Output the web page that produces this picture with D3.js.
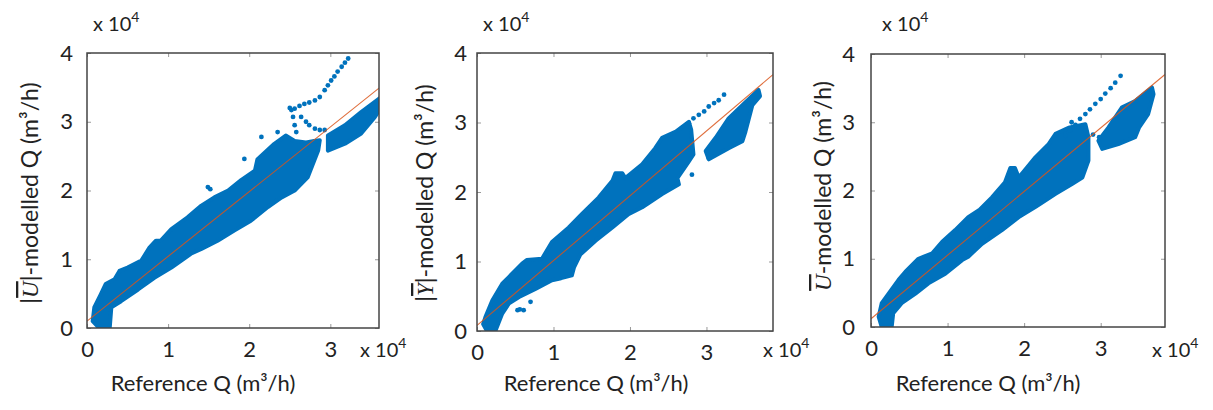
<!DOCTYPE html>
<html>
<head>
<meta charset="utf-8">
<script src="https://d3js.org/d3.v7.min.js"></script>
<style>
  body { margin: 0; background: #fff; }
  text { font-family: Lato, "Open Sans", sans-serif; fill: #222; }
</style>
</head>
<body>
<script>
// ticks (values in units of 10^4 m3/h)
const xTicks = [0, 1, 2, 3];
const yTicks = [0, 1, 2, 3, 4];

// panel 1 : |U|-modelled
const p1Upper = [[0.15,0.00],[0.07,0.10],[0.09,0.30],[0.17,0.49],[0.23,0.64],[0.34,0.71],[0.40,0.83],[0.50,0.88],[0.67,0.98],[0.77,1.17],[0.85,1.27],[0.91,1.27],[1.04,1.44],[1.24,1.61],[1.41,1.78],[1.57,1.90],[1.74,2.00],[1.90,2.15],[2.07,2.29],[2.10,2.45],[2.19,2.55],[2.31,2.68],[2.45,2.80],[2.56,2.72],[2.70,2.70],[2.80,2.72],[2.87,2.73]];
const p1Lower = [[0.28,0.00],[0.30,0.30],[0.42,0.39],[0.63,0.56],[0.83,0.73],[1.04,0.88],[1.28,1.08],[1.41,1.15],[1.61,1.27],[1.82,1.42],[2.02,1.56],[2.23,1.76],[2.40,1.90],[2.56,2.00],[2.72,2.19],[2.85,2.58]];
const p1Cluster = [[2.97,2.80],[3.18,2.95],[3.38,3.14],[3.63,3.36],[3.63,3.22],[3.55,3.07],[3.38,2.83],[3.18,2.68],[2.97,2.58]];
const p1Dots = [[1.49,2.05],[1.52,2.02],[1.94,2.46],[2.15,2.78],[2.35,2.85],
  [2.52,3.17],[2.50,3.20],[2.54,3.07],[2.56,2.95],[2.58,2.85],
  [2.56,3.19],[2.62,3.23],[2.68,3.26],[2.74,3.28],[2.81,3.31],[2.87,3.36],[2.93,3.46],[2.97,3.53],[3.01,3.60],[3.05,3.66],[3.09,3.73],[3.14,3.80],[3.18,3.86],[3.22,3.92],
  [2.64,3.07],[2.70,3.00],[2.74,2.95],[2.81,2.90],[2.87,2.88],[2.93,2.88]];
const p1Fit = [[0, 0.10], [3.6, 3.49]];

// panel 2 : |Y|-modelled
const p2Upper = [[0.13,0.00],[0.08,0.10],[0.11,0.20],[0.20,0.44],[0.33,0.68],[0.42,0.78],[0.59,0.97],[0.65,1.02],[0.85,1.04],[0.98,1.28],[1.20,1.49],[1.37,1.68],[1.59,1.92],[1.77,2.16],[1.81,2.27],[1.90,2.27],[1.94,2.20],[2.16,2.40],[2.33,2.63],[2.42,2.78],[2.60,2.87],[2.77,3.01],[2.80,2.90]];
const p2Lower = [[0.24,0.00],[0.33,0.25],[0.42,0.40],[0.55,0.49],[0.77,0.61],[0.98,0.73],[1.10,0.76],[1.24,0.80],[1.27,0.92],[1.35,1.10],[1.55,1.30],[1.77,1.49],[1.98,1.68],[2.16,1.78],[2.42,1.97],[2.64,2.11],[2.62,2.20],[2.77,2.44],[2.83,2.54]];
const p2Cluster = [[2.99,2.59],[3.12,2.78],[3.29,3.06],[3.47,3.25],[3.68,3.47],[3.70,3.38],[3.60,3.25],[3.51,2.87],[3.47,2.73],[3.29,2.63],[3.03,2.47]];
const p2Dots = [[0.53,0.30],[0.56,0.31],[0.61,0.30],[0.70,0.42],[2.81,2.25],[3.03,2.49],
  [2.77,2.99],[2.83,3.06],[2.90,3.11],[2.97,3.16],[3.03,3.23],[3.10,3.28],[3.16,3.32],[3.23,3.40]];
const p2Fit = [[0, 0.08], [3.87, 3.69]];

// panel 3 : U-modelled
const p3Upper = [[0.14,0.00],[0.10,0.15],[0.14,0.35],[0.23,0.49],[0.36,0.69],[0.45,0.81],[0.62,1.00],[0.80,1.08],[0.93,1.25],[1.10,1.42],[1.27,1.61],[1.41,1.71],[1.58,1.90],[1.75,2.12],[1.82,2.33],[1.88,2.33],[1.93,2.19],[2.15,2.49],[2.32,2.68],[2.41,2.83],[2.58,2.92],[2.80,2.97],[2.84,2.78]];
const p3Lower = [[0.27,0.00],[0.29,0.20],[0.40,0.35],[0.58,0.49],[0.75,0.64],[0.97,0.78],[1.19,0.98],[1.27,1.03],[1.45,1.22],[1.71,1.42],[1.93,1.61],[2.15,1.76],[2.41,1.95],[2.63,2.10],[2.76,2.19],[2.84,2.44]];
const p3Cluster = [[2.97,2.73],[3.10,2.92],[3.28,3.22],[3.45,3.31],[3.67,3.51],[3.69,3.41],[3.62,3.12],[3.50,2.92],[3.45,2.78],[3.23,2.68],[3.02,2.61]];
const p3Dots = [[2.54,2.80],[2.60,2.88],[2.67,2.96],[2.73,3.05],[2.80,3.12],[2.86,3.19],[2.93,3.27],[3.00,3.34],[3.06,3.42],[3.13,3.50],[3.19,3.58],[3.26,3.68],
  [2.62,3.00],[2.72,2.93],[2.80,2.88],[2.90,2.82],[2.98,2.78]];
const p3Fit = [[0, 0.12], [3.84, 3.70]];

const panels = [
  {upper:p1Upper, lower:p1Lower, cluster:p1Cluster, dots:p1Dots, fit:p1Fit, xMax:3.6,
   box:{l:87,r:379,t:53,b:328}, ylPad:14, sym:"U", bars:true, titleX:203, yTitleX:38,
   topExp:93, sideExp:360},
  {upper:p2Upper, lower:p2Lower, cluster:p2Cluster, dots:p2Dots, fit:p2Fit, xMax:3.87,
   box:{l:477,r:773,t:53,b:331}, ylPad:10, sym:"Y", bars:true, titleX:596, yTitleX:433,
   topExp:483, sideExp:763},
  {upper:p3Upper, lower:p3Lower, cluster:p3Cluster, dots:p3Dots, fit:p3Fit, xMax:3.84,
   box:{l:871,r:1165,t:54,b:327}, ylPad:16, sym:"U", bars:false, titleX:988, yTitleX:831,
   topExp:882, sideExp:1152}
];

const blue = "#0072BD", orange = "#D95319";
const svg = d3.select("body").append("svg").attr("width", 1213).attr("height", 410);

function expLabel(g, x, y) {
  const t = g.append("text").attr("x", x).attr("y", y).style("font-size", "20px");
  t.append("tspan").text("x 10");
  t.append("tspan").attr("dy", -9).style("font-size", "14px").text("4");
}

panels.forEach((p, i) => {
  const x = d3.scaleLinear().domain([0, p.xMax]).range([p.box.l, p.box.r]);
  const y = d3.scaleLinear().domain([0, 4]).range([p.box.b, p.box.t]);
  const g = svg.append("g");

  g.append("clipPath").attr("id", "clip" + i).append("rect")
    .attr("x", p.box.l).attr("y", p.box.t)
    .attr("width", p.box.r - p.box.l).attr("height", p.box.b - p.box.t);

  const plot = g.append("g").attr("clip-path", `url(#clip${i})`);
  const line = d3.line().x(d => x(d[0])).y(d => y(d[1])).curve(d3.curveLinearClosed);

  // dense cloud of points -> envelope, sparse points -> markers
  plot.append("path")
    .attr("d", line(p.upper.concat(p.lower.slice().reverse())))
    .attr("fill", blue).attr("stroke", blue).attr("stroke-width", 4)
    .attr("stroke-linejoin", "round");
  plot.append("path")
    .attr("d", line(p.cluster))
    .attr("fill", blue).attr("stroke", blue).attr("stroke-width", 4)
    .attr("stroke-linejoin", "round");
  plot.selectAll("circle").data(p.dots).enter().append("circle")
    .attr("cx", d => x(d[0])).attr("cy", d => y(d[1])).attr("r", 2.4)
    .attr("fill", blue);

  plot.append("path")
    .attr("d", d3.line().x(d => x(d[0])).y(d => y(d[1]))(p.fit))
    .attr("stroke", orange).attr("stroke-width", 1.1).attr("fill", "none")
    .attr("opacity", 0.85);

  // axes, MATLAB style inward ticks on all sides
  const ax = g.append("g").attr("transform", `translate(0,${p.box.b})`)
    .call(d3.axisBottom(x).tickValues(xTicks).tickSizeInner(-4).tickSizeOuter(0)
      .tickPadding(13).tickFormat(d3.format("d")));
  const ay = g.append("g").attr("transform", `translate(${p.box.l},0)`)
    .call(d3.axisLeft(y).tickValues(yTicks).tickSizeInner(-4).tickSizeOuter(0)
      .tickPadding(p.ylPad).tickFormat(d3.format("d")));
  const at = g.append("g").attr("transform", `translate(0,${p.box.t})`)
    .call(d3.axisTop(x).tickValues(xTicks).tickSizeInner(-4).tickSizeOuter(0).tickFormat(""));
  const ar = g.append("g").attr("transform", `translate(${p.box.r},0)`)
    .call(d3.axisRight(y).tickValues(yTicks).tickSizeInner(-4).tickSizeOuter(0).tickFormat(""));
  [ax, ay, at, ar].forEach(a => {
    a.select(".domain").remove();
    a.selectAll("line").attr("stroke", "#999");
    a.selectAll("text").style("font-size", "22px").attr("fill", "#222")
      .style("font-family", "Lato, sans-serif");
  });

  g.append("rect").attr("x", p.box.l).attr("y", p.box.t)
    .attr("width", p.box.r - p.box.l).attr("height", p.box.b - p.box.t)
    .attr("fill", "none").attr("stroke", "#444").attr("stroke-width", 1.5);

  expLabel(g, p.topExp, 31);
  expLabel(g, p.sideExp, 357);

  g.append("text").attr("x", p.titleX).attr("y", 391).attr("text-anchor", "middle")
    .style("font-size", "22px").text("Reference Q (m³/h)");

  const yt = g.append("text")
    .attr("transform", `translate(${p.yTitleX},${i === 2 ? 186 : 193}) rotate(-90)`)
    .attr("text-anchor", "middle").style("font-size", "23px");
  if (p.bars) yt.append("tspan").text("|");
  yt.append("tspan")
    .style("font-family", "'Liberation Serif', serif").style("font-style", "italic")
    .style("text-decoration", "overline").text(p.sym);
  if (p.bars) yt.append("tspan").text("|");
  yt.append("tspan").text("-modelled Q (m³/h)");
});
</script>
</body>
</html>
